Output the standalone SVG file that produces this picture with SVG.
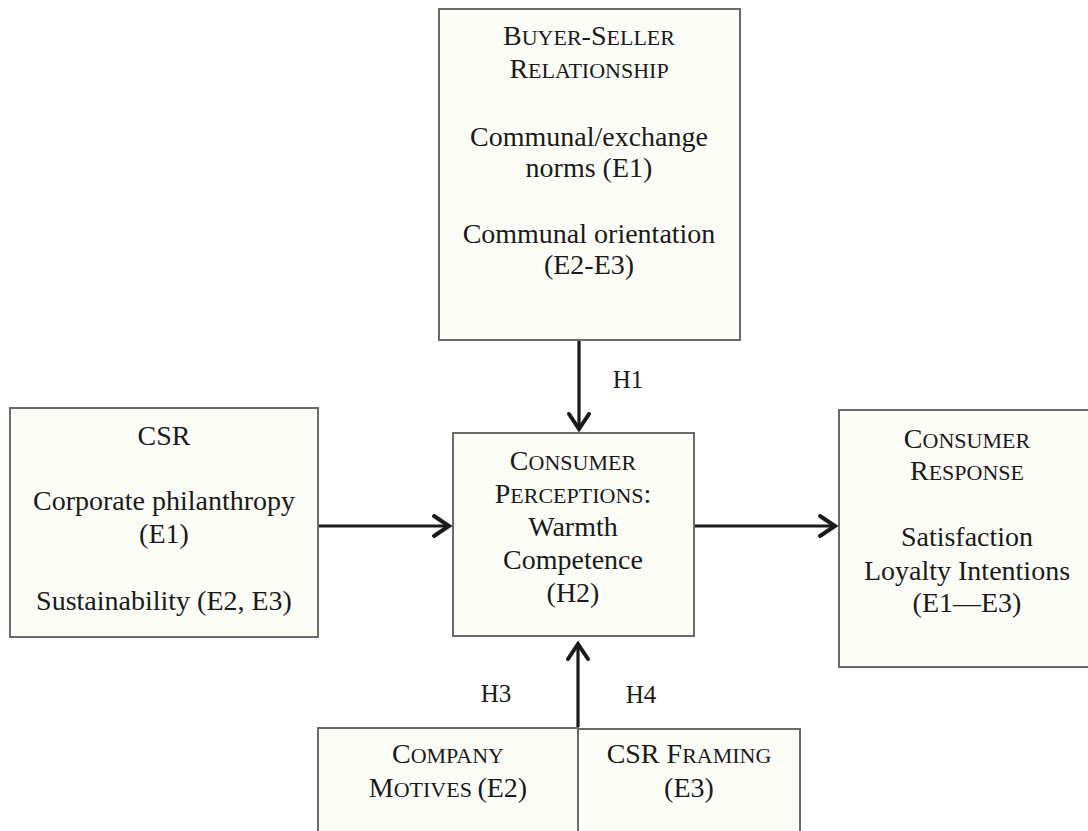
<svg xmlns="http://www.w3.org/2000/svg" width="1088" height="831" viewBox="0 0 1088 831">
<defs>
<style>
.box{fill:#fdfdf8;stroke:#6a6a6a;stroke-width:2}
text{font-family:"Liberation Serif","Times New Roman",serif;fill:#1a1a1a;text-anchor:middle;font-size:28px}
.sc{font-size:22px}
.cap{font-size:28px}
.conn{stroke:#1a1a1a;stroke-width:3.2;fill:none}
.head{stroke:#1a1a1a;stroke-width:4;fill:none;stroke-linecap:round;stroke-linejoin:miter}
.lbl{font-size:25px}
</style>
</defs>
<rect width="1088" height="831" fill="#ffffff"/>
<g id="buyer-seller">
<rect class="box" x="439" y="9" width="301" height="331"/>
<text x="589" y="45"><tspan class="cap">B</tspan><tspan class="sc">UYER</tspan><tspan class="cap">-S</tspan><tspan class="sc">ELLER</tspan></text>
<text x="589" y="78"><tspan class="cap">R</tspan><tspan class="sc">ELATIONSHIP</tspan></text>
<text x="589" y="146">Communal/exchange</text>
<text x="589" y="177">norms (E1)</text>
<text x="589" y="243">Communal orientation</text>
<text x="589" y="274">(E2-E3)</text>
</g>
<g id="csr">
<rect class="box" x="10" y="408" width="308" height="229"/>
<text x="164" y="445">CSR</text>
<text x="164" y="510">Corporate philanthropy</text>
<text x="164" y="543">(E1)</text>
<text x="164" y="610">Sustainability (E2, E3)</text>
</g>
<g id="perceptions">
<rect class="box" x="453" y="433" width="241" height="203"/>
<text x="573" y="470"><tspan class="cap">C</tspan><tspan class="sc">ONSUMER</tspan></text>
<text x="573" y="503"><tspan class="cap">P</tspan><tspan class="sc">ERCEPTIONS</tspan><tspan class="cap">:</tspan></text>
<text x="573" y="536">Warmth</text>
<text x="573" y="569">Competence</text>
<text x="573" y="602">(H2)</text>
</g>
<g id="response">
<rect class="box" x="839" y="410" width="260" height="257"/>
<text x="967" y="448"><tspan class="cap">C</tspan><tspan class="sc">ONSUMER</tspan></text>
<text x="967" y="480"><tspan class="cap">R</tspan><tspan class="sc">ESPONSE</tspan></text>
<text x="967" y="546">Satisfaction</text>
<text x="967" y="580">Loyalty Intentions</text>
<text x="967" y="612">(E1—E3)</text>
</g>
<g id="motives">
<rect class="box" x="318" y="728" width="260" height="120"/>
<text x="448" y="763"><tspan class="cap">C</tspan><tspan class="sc">OMPANY</tspan></text>
<text x="448" y="797"><tspan class="cap">M</tspan><tspan class="sc">OTIVES </tspan><tspan class="cap">(E2)</tspan></text>
</g>
<g id="framing">
<rect class="box" x="578" y="729" width="222" height="120"/>
<text x="689" y="763"><tspan class="cap">CSR F</tspan><tspan class="sc">RAMING</tspan></text>
<text x="689" y="797">(E3)</text>
</g>
<g id="connectors">
<line class="conn" x1="579" y1="341" x2="579" y2="429"/>
<polyline class="head" points="569,414 579,429 589,414"/>
<line class="conn" x1="319" y1="526" x2="449" y2="526"/>
<polyline class="head" points="434,516 449,526 434,536"/>
<line class="conn" x1="695" y1="526" x2="835" y2="526"/>
<polyline class="head" points="820,516 835,526 820,536"/>
<line class="conn" x1="578" y1="727" x2="578" y2="644"/>
<polyline class="head" points="568,659 578,644 588,659"/>
</g>
<g id="labels">
<text class="lbl" x="628" y="388">H1</text>
<text class="lbl" x="496" y="702">H3</text>
<text class="lbl" x="641" y="703">H4</text>
</g>
</svg>
